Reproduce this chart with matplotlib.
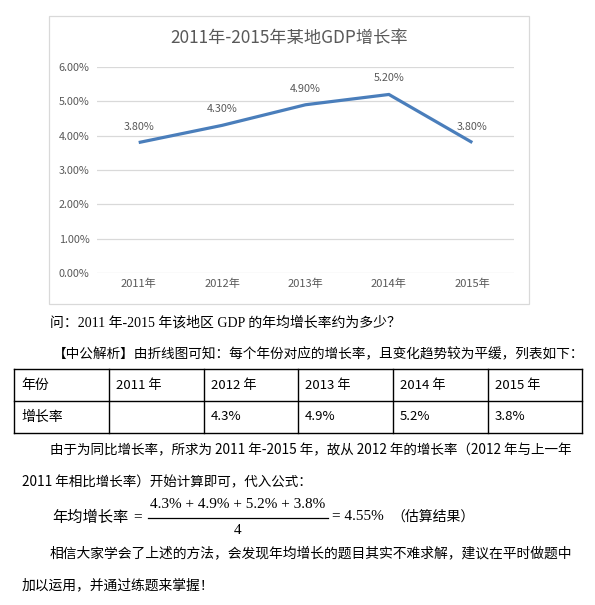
import matplotlib
matplotlib.use('Agg')
import matplotlib.pyplot as plt
from matplotlib.patches import Rectangle

# chart data
years = [2011, 2012, 2013, 2014, 2015]
growth = [3.8, 4.3, 4.9, 5.2, 3.8]
y_ticks = [0, 1, 2, 3, 4, 5, 6]
chart_title = '2011年-2015年某地GDP增长率'

# text under the chart
question = '问：2011 年-2015 年该地区 GDP 的年均增长率约为多少？'
analysis = '【中公解析】由折线图可知：每个年份对应的增长率，且变化趋势较为平缓，列表如下：'
row_heads = ['年份', '增长率']
para1 = ['由于为同比增长率，所求为 2011 年-2015 年，故从 2012 年的增长率（2012 年与上一年',
         '2011 年相比增长率）开始计算即可，代入公式：']
formula_lhs = '年均增长率'
formula_note = '（估算结果）'
para2 = ['相信大家学会了上述的方法，会发现年均增长的题目其实不难求解，建议在平时做题中',
         '加以运用，并通过练题来掌握！']

CJK = 'Noto Sans CJK SC'
SERIF = ['Liberation Serif', CJK]
GREY = '#595959'
W, H = 595, 605

plt.rcParams['font.family'] = [CJK, 'DejaVu Sans']

fig = plt.figure(figsize=(W / 100, H / 100), dpi=100)

# overlay axes in pixel units for the page-like parts
ax0 = fig.add_axes([0, 0, 1, 1])
ax0.set_xlim(0, W)
ax0.set_ylim(H, 0)
ax0.axis('off')

# chart frame
ax0.add_patch(Rectangle((49, 16), 480, 288, fill=False, ec='#D9D9D9', lw=0.9))
ax0.text(289.5, 38, chart_title, ha='center', va='center', fontsize=12.4, color=GREY)

# the line chart itself
left, right, top, bottom = 97, 514, 67, 273
ax = fig.add_axes([left / W, 1 - bottom / H, (right - left) / W, (bottom - top) / H])
ax.set_facecolor('none')
xs = list(range(len(years)))
ax.plot(xs, growth, color='#4A7EBB', lw=2.3, solid_capstyle='butt', solid_joinstyle='miter')
for x, v in zip(xs, growth):
    ax.annotate(f'{v:.2f}%', (x, v), xytext=(0, 11.5), textcoords='offset points',
                ha='center', va='center', fontsize=7.8, color=GREY)
ax.set_xlim(-0.5, len(years) - 0.5)
ax.set_ylim(0, 6)
ax.set_yticks(y_ticks)
ax.set_yticklabels([f'{t:.2f}%' for t in y_ticks])
ax.set_xticks(xs)
ax.set_xticklabels([f'{y}年' for y in years])
ax.tick_params(axis='y', length=0, pad=5.5, labelsize=7.8, labelcolor=GREY)
ax.tick_params(axis='x', length=0, pad=4.3, labelsize=8, labelcolor=GREY)
ax.yaxis.grid(True, color='#D9D9D9', lw=0.9)
ax.set_axisbelow(True)
for s in ax.spines.values():
    s.set_visible(False)

# question and analysis lines
ax0.text(50, 323, question, ha='left', va='center', fontsize=10, family=SERIF)
ax0.text(53, 354, analysis, ha='left', va='center', fontsize=9.85)

# table
col_x = [14, 109, 204, 298, 393, 488, 582]
row_y = [369, 401, 433]
for y in row_y:
    ax0.plot([col_x[0], col_x[-1]], [y, y], color='black', lw=1.0)
for x in col_x:
    ax0.plot([x, x], [row_y[0], row_y[-1]], color='black', lw=1.0)
ax0.text(col_x[0] + 7, 385, row_heads[0], ha='left', va='center', fontsize=10)
ax0.text(col_x[0] + 7, 417, row_heads[1], ha='left', va='center', fontsize=10)
for i, (yr, v) in enumerate(zip(years, growth)):
    ax0.text(col_x[i + 1] + 7, 385, f'{yr} 年', ha='left', va='center', fontsize=9.5)
    if i > 0:
        ax0.text(col_x[i + 1] + 7, 417, f'{v}%', ha='left', va='center', fontsize=9.5)

# paragraph before the formula
ax0.text(50, 450, para1[0], ha='left', va='center', fontsize=9.75)
ax0.text(22, 482, para1[1], ha='left', va='center', fontsize=9.75)

# formula: average of 2012-2015 growth rates
rates = growth[1:]
avg = sum(rates) / len(rates)
ax0.text(52, 517, formula_lhs, ha='left', va='center', fontsize=11)
ax0.text(138, 517, '=', ha='center', va='center', fontsize=11, family=SERIF)
ax0.text(238, 505, ' + '.join(f'{r}%' for r in rates), ha='center', va='center',
         fontsize=11, family=SERIF)
ax0.plot([148, 328], [518, 518], color='black', lw=0.9)
ax0.text(238, 530, str(len(rates)), ha='center', va='center', fontsize=11, family=SERIF)
ax0.text(332, 517, f'= {avg:.2f}%', ha='left', va='center', fontsize=11, family=SERIF)
ax0.text(391, 517, formula_note, ha='left', va='center', fontsize=10)

# closing paragraph
ax0.text(50, 553, para2[0], ha='left', va='center', fontsize=9.95)
ax0.text(22, 585, para2[1], ha='left', va='center', fontsize=9.95)

fig.savefig('out.png', dpi=100, facecolor='white')
